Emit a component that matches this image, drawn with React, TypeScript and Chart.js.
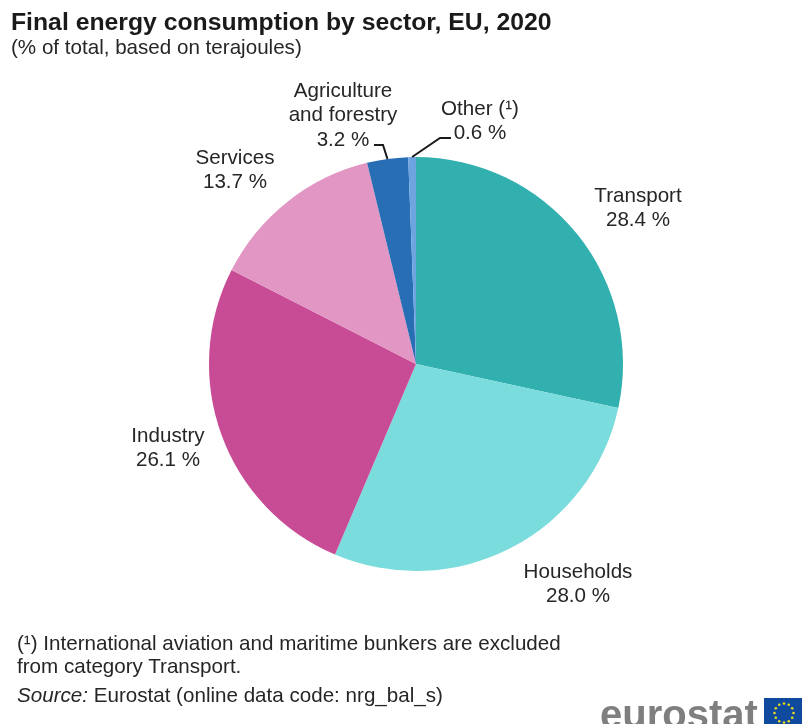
import React, { useEffect, useRef } from "react";
import { Chart, registerables } from "chart.js";

Chart.register(...registerables);

const sectors = ["Transport", "Households", "Industry", "Services", "Agriculture and forestry", "Other"];
const shares = [28.4, 28.0, 26.1, 13.7, 3.2, 0.6];
const sliceColors = ["#32afaf", "#7adcdc", "#c84b96", "#e196c3", "#286eb4", "#6ea5e1"];

const labelLines = [
  ["Transport", "28.4 %"],
  ["Households", "28.0 %"],
  ["Industry", "26.1 %"],
  ["Services", "13.7 %"],
  ["Agriculture", "and forestry", "3.2 %"],
  ["Other (¹)", "0.6 %"],
];

// Centre of the first line of each slice label, in canvas pixels.
const labelAnchors = [
  { x: 638, y: 196 },
  { x: 578, y: 572 },
  { x: 168, y: 436 },
  { x: 235, y: 158 },
  { x: 343, y: 91 },
  { x: 480, y: 109 },
];

// Elbow and text-side points of the leader lines; index refers to the slice.
const leaders = [
  { index: 4, from: { x: 374, y: 145 }, elbow: { x: 383, y: 145 } },
  { index: 5, from: { x: 451, y: 138 }, elbow: { x: 440, y: 138 } },
];

const FONT = '"Liberation Sans", Arial, sans-serif';
const STAR_COUNT = 12;

const sliceLabels = {
  id: "sliceLabels",
  afterDatasetsDraw(chart: Chart) {
    const { ctx } = chart;
    const arcs = chart.getDatasetMeta(0).data as any[];
    ctx.save();

    ctx.strokeStyle = "#1a1a1a";
    ctx.lineWidth = 2;
    leaders.forEach(({ index, from, elbow }) => {
      const arc = arcs[index];
      const mid = (arc.startAngle + arc.endAngle) / 2;
      ctx.beginPath();
      ctx.moveTo(from.x, from.y);
      ctx.lineTo(elbow.x, elbow.y);
      ctx.lineTo(arc.x + Math.cos(mid) * arc.outerRadius, arc.y + Math.sin(mid) * arc.outerRadius);
      ctx.stroke();
    });

    ctx.fillStyle = "#262626";
    ctx.font = `20.6px ${FONT}`;
    ctx.textAlign = "center";
    ctx.textBaseline = "middle";
    labelLines.forEach((lines, i) => {
      lines.forEach((line, row) => {
        ctx.fillText(line, labelAnchors[i].x, labelAnchors[i].y + row * 24.5);
      });
    });
    ctx.restore();
  },
};

function EuFlag() {
  const stars = Array.from({ length: STAR_COUNT }, (_, i) => {
    const a = (i / STAR_COUNT) * Math.PI * 2;
    return <circle key={i} cx={20 + Math.cos(a) * 9.5} cy={15 + Math.sin(a) * 9.5} r={1.3} fill="#e8d820" />;
  });
  return (
    <svg width={38} height={26} style={{ position: "absolute", left: 764, top: 698 }}>
      <rect width={38} height={26} fill="#104a9e" />
      {stars}
    </svg>
  );
}

const textStyle: React.CSSProperties = {
  position: "absolute",
  fontFamily: FONT,
  color: "#262626",
  whiteSpace: "nowrap",
  margin: 0,
};

export default function App() {
  const canvasRef = useRef<HTMLCanvasElement>(null);

  useEffect(() => {
    document.body.style.margin = "0";
    const chart = new Chart(canvasRef.current!, {
      type: "pie",
      data: {
        labels: sectors,
        datasets: [{ data: shares, backgroundColor: sliceColors, borderWidth: 0 }],
      },
      options: {
        animation: false,
        responsive: false,
        layout: { padding: { left: 209, right: 179, top: 157, bottom: 153 } },
        plugins: { legend: { display: false }, tooltip: { enabled: false } },
      },
      plugins: [sliceLabels],
    });
    return () => chart.destroy();
  }, []);

  return (
    <div style={{ position: "relative", width: 802, height: 724, overflow: "hidden", background: "#fff" }}>
      <canvas ref={canvasRef} width={802} height={724} style={{ position: "absolute", left: 0, top: 0 }} />
      <div style={{ ...textStyle, left: 11, top: 8, fontSize: 24.75, fontWeight: 700, color: "#1a1a1a" }}>
        Final energy consumption by sector, EU, 2020
      </div>
      <div style={{ ...textStyle, left: 11, top: 35, fontSize: 20.6 }}>(% of total, based on terajoules)</div>
      <div style={{ ...textStyle, left: 17, top: 631, fontSize: 20.6 }}>(¹) International aviation and maritime bunkers are excluded</div>
      <div style={{ ...textStyle, left: 17, top: 654, fontSize: 20.6 }}>from category Transport.</div>
      <div style={{ ...textStyle, left: 17, top: 683, fontSize: 20.6 }}>
        <i>Source:</i> Eurostat (online data code: nrg_bal_s)
      </div>
      <div style={{ ...textStyle, left: 600, top: 694, fontSize: 40, fontWeight: 700, color: "#7f7f7f", lineHeight: "40px" }}>eurostat</div>
      <EuFlag />
    </div>
  );
}
